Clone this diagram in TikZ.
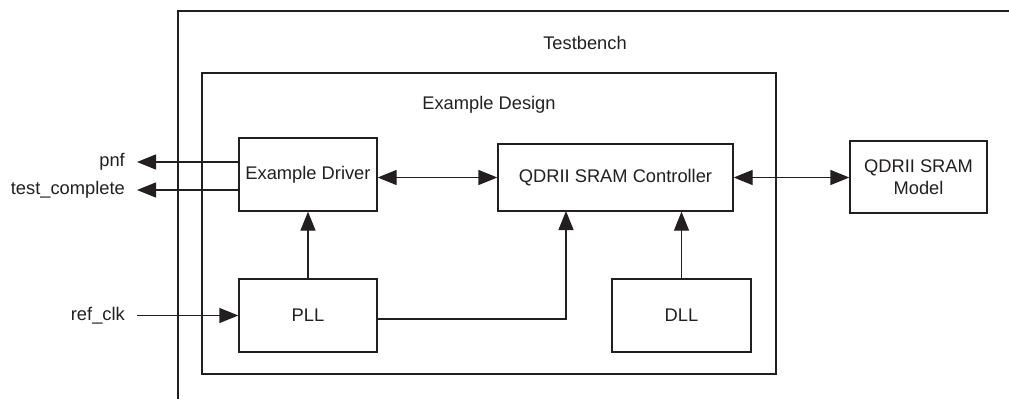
\documentclass[tikz,border=0pt]{standalone}
\usepackage{fontspec}
\setmainfont{Liberation Sans}
\usetikzlibrary{arrows.meta}
\definecolor{ink}{HTML}{231F20}
\tikzset{
  blk/.style={draw=ink, line width=1.3pt, fill=white, text=ink, align=center, inner sep=0pt,
    font=\fontsize{18.3}{22}\selectfont},
  lbl/.style={text=ink, inner sep=0pt, font=\fontsize{18.3}{22}\selectfont},
  conn/.style={draw=ink, line width=1.3pt},
  tip/.style={-{Triangle[length=19pt,width=15pt]}},
  tips/.style={{Triangle[length=19pt,width=15pt]}-{Triangle[length=19pt,width=15pt]}},
}
\begin{document}
\begin{tikzpicture}[x=1pt,y=-1pt]
\useasboundingbox (0,0) rectangle (1009,399);
% Testbench (open on right and bottom)
\draw[conn] (178,399) -- (178,11) -- (1009,11);
\node[lbl] (tb) at (585,43) {Testbench};
% Example design
\draw[conn] (202,73) rectangle (776,374);
\node[lbl] (ed) at (489,105) {Example Design};
% blocks
\node[blk, minimum width=138pt, minimum height=73pt] (drv) at (308,174.5) {Example Driver};
\node[blk, minimum width=235pt, minimum height=67pt] (ctrl) at (615.5,177.5) {QDRII SRAM Controller};
\node[blk, minimum width=137pt, minimum height=72pt] (model) at (918.5,177) {QDRII SRAM\\Model};
\node[blk, minimum width=138pt, minimum height=73pt] (pll) at (308,315.5) {PLL};
\node[blk, minimum width=139pt, minimum height=73pt] (dll) at (681.5,315.5) {DLL};
% external labels
\coordinate (pnfend) at (137,162);
\coordinate (tcend) at (137,190);
\coordinate (clkstart) at (137,315.5);
\node[lbl, anchor=east] (pnf) at (125,162) {pnf};
\node[lbl, anchor=east] (tc) at (125,190) {test\_complete};
\node[lbl, anchor=east] (clk) at (125,315.5) {ref\_clk};
% connectors
\draw[conn, tip] (drv.west |- pnfend) -- (pnfend);
\draw[conn, tip] (drv.west |- tcend) -- (tcend);
\draw[conn, tips] (drv.east |- ctrl.west) -- (ctrl.west);
\draw[conn, tips] (ctrl.east) -- (ctrl.east -| model.west);
\draw[conn, tip] (pll.north) -- (drv.south);
\draw[conn, tip] (clkstart) -- (pll.west);
\coordinate (pllout) at (377,319);
\coordinate (ctrlin) at (566,211);
\draw[conn, tip] (pll.east |- pllout) -| (ctrlin);
\draw[conn, tip] (dll.north) -- (dll.north |- ctrl.south);
\end{tikzpicture}
\end{document}
